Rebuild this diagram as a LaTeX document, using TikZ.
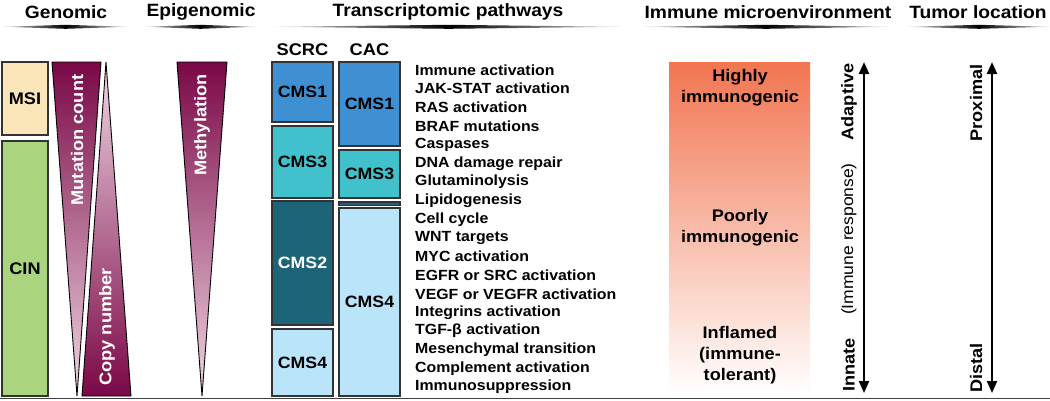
\documentclass[tikz,border=0pt]{standalone}
\usepackage{fontspec}
\setmainfont{Liberation Sans}[FakeStretch=1.08]
\usetikzlibrary{arrows.meta}
\definecolor{maroon}{RGB}{122,8,70}
\definecolor{pinklt}{RGB}{240,214,227}
\definecolor{msiyel}{RGB}{250,229,184}
\definecolor{cingrn}{RGB}{170,212,125}
\definecolor{cmsone}{RGB}{62,144,210}
\definecolor{cmsthree}{RGB}{64,193,203}
\definecolor{cmstwo}{RGB}{30,100,120}
\definecolor{cmsfour}{RGB}{186,228,249}
\definecolor{imtop}{RGB}{241,117,80}
\definecolor{immid}{RGB}{246,168,138}
\tikzset{
  hdr/.style={font=\fontsize{17.8}{21}\selectfont\bfseries, inner sep=0},
  lbl/.style={font=\fontsize{16.9}{20}\selectfont\bfseries, inner sep=0},
  cms/.style={draw=black!80, line width=1.3, inner sep=0, font=\fontsize{16.4}{19}\selectfont\bfseries},
  item/.style={font=\fontsize{14.7}{17}\selectfont\bfseries, inner sep=0, anchor=west},
  tri/.style={draw=black, line width=0.9},
  trilbl/.style={font=\fontsize{16.9}{20}\selectfont\bfseries, text=white, rotate=90, inner sep=0},
  rlbl/.style={font=\fontsize{16.8}{20}\selectfont\bfseries, rotate=90, inner sep=0},
  imlbl/.style={font=\fontsize{16.8}{21}\selectfont\bfseries, align=center, inner sep=0},
  dblarrow/.style={line width=2.2, {Triangle[length=12,width=10]}-{Triangle[length=12,width=10]}}
}
\newcommand\hdrline[2]{%
  \shade[left color=gray!30, right color=gray!30, middle color=black]
    (#1,26.8) -- ({(#1+#2)/2},24.8) -- (#2,26.8) -- ({(#1+#2)/2},28.8) -- cycle;}
\begin{document}
\begin{tikzpicture}[x=1pt,y=-1pt]
\useasboundingbox (0,0) rectangle (1050,400);
% headers
\node[hdr] (hgen) at (66,12) {Genomic};
\node[hdr] (hepi) at (201,12) {Epigenomic};
\node[hdr] (htra) at (448,12) {Transcriptomic pathways};
\node[hdr] (himm) at (768,12) {Immune microenvironment};
\node[hdr] (htum) at (978,12) {Tumor location};
\hdrline{3}{128}
\hdrline{145}{256}
\hdrline{275}{622}
\hdrline{642}{890}
\hdrline{908}{1050}
% genomic
\node[cms, fill=msiyel, minimum width=46, minimum height=73, font=\fontsize{16.8}{20}\selectfont\bfseries] (msi) at (25,98.5) {MSI};
\node[cms, fill=cingrn, minimum width=46, minimum height=255, font=\fontsize{16.8}{20}\selectfont\bfseries] (cin) at (25,268.5) {CIN};
\shade[top color=maroon, bottom color=pinklt] (52,62) -- (101,62) -- (77,396) -- cycle;
\draw[tri] (52,62) -- (101,62) -- (77,396) -- cycle;
\shade[top color=pinklt, bottom color=maroon] (106,62) -- (131,396) -- (82,396) -- cycle;
\draw[tri] (106,62) -- (131,396) -- (82,396) -- cycle;
\node[trilbl] (mut) at (77,140) {Mutation count};
\node[trilbl] (cop) at (107,327) {Copy number};
% epigenomic
\shade[top color=maroon, bottom color=pinklt] (177,62) -- (227,62) -- (202,396) -- cycle;
\draw[tri] (177,62) -- (227,62) -- (202,396) -- cycle;
\node[trilbl] (met) at (202,125) {Methylation};
% transcriptomic
\node[lbl] (scrc) at (302.5,50) {SCRC};
\node[lbl] (cac) at (369.5,50) {CAC};
\node[cms, fill=cmsone, minimum width=61, minimum height=60] (s1) at (302.5,92) {CMS1};
\node[cms, fill=cmsthree, minimum width=61, minimum height=72] (s3) at (302.5,162) {CMS3};
\node[cms, fill=cmstwo, text=white, minimum width=61, minimum height=124] (s2) at (302.5,263) {CMS2};
\node[cms, fill=cmsfour, minimum width=61, minimum height=67] (s4) at (302.5,362.5) {CMS4};
\node[cms, fill=cmsone, minimum width=61, minimum height=84] (c1) at (369.5,104) {CMS1};
\node[cms, fill=cmsthree, minimum width=61, minimum height=48] (c3) at (369.5,174) {CMS3};
\node[cms, fill=cmstwo, minimum width=61, minimum height=3.5] (c2) at (369.5,203.8) {};
\node[cms, fill=cmsfour, minimum width=61, minimum height=188] (c4) at (369.5,302) {CMS4};
\foreach \t [count=\i from 0] in {Immune activation, JAK-STAT activation, RAS activation, BRAF mutations, Caspases, DNA damage repair, Glutaminolysis, Lipidogenesis, Cell cycle, WNT targets, MYC activation, EGFR or SRC activation, VEGF or VEGFR activation, Integrins activation, TGF-β activation, Mesenchymal transition, Complement activation, Immunosuppression}
  \node[item] (it\i) at (415,{70+18.65*\i}) {\t};
% immune microenvironment
\shade[top color=imtop, middle color=immid, bottom color=white] (669,62) rectangle (810,393);
\node[imlbl] (high) at (740,87.5) {Highly\\immunogenic};
\node[imlbl] (poor) at (740,228) {Poorly\\immunogenic};
\node[imlbl] (infl) at (740,355) {Inflamed\\(immune-\\tolerant)};
\coordinate (iatop) at (864,62);
\coordinate (iabot) at (864,393);
\draw[dblarrow] (iatop) -- (iabot);
\node[rlbl] (adap) at (849,102) {Adaptive};
\node[rlbl, font=\fontsize{16.2}{20}\selectfont] (iresp) at (849,239) {(Immune response)};
\node[rlbl] (inna) at (849,365) {Innate};
% tumor location
\coordinate (tltop) at (992,62);
\coordinate (tlbot) at (992,393);
\draw[dblarrow] (tltop) -- (tlbot);
\node[rlbl] (prox) at (976,103) {Proximal};
\node[rlbl] (dist) at (976,368) {Distal};
% bottom rule
\draw[line width=0.9, black!75] (0,398.5) -- (1050,398.5);
\end{tikzpicture}
\end{document}
